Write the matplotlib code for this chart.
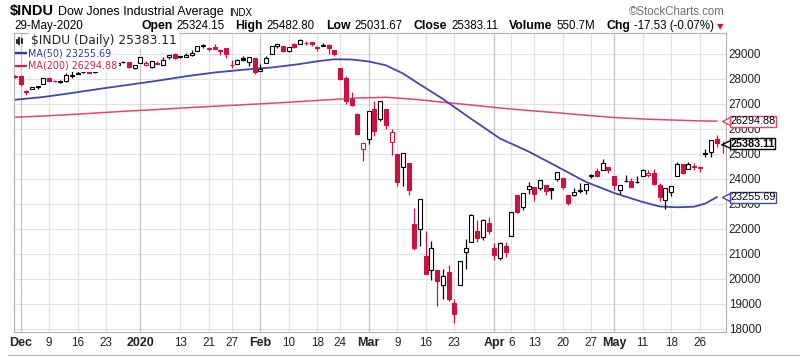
"""Dow Jones Industrial Average, daily candles with 50 and 200 day moving averages"""

import matplotlib.pyplot as plt
from matplotlib.lines import Line2D
from matplotlib.transforms import blended_transform_factory

# trading days Nov 29 2019 .. May 29 2020 (index -1 is Nov 29, 0 is Dec 2)
opens = [28117, 28109, 27463, 27588, 27706, 27786, 28017, 27911, 27870, 27918, 28110,
         28191, 28260, 28294, 28250, 28431, 28491, 28572, 28539, 28676, 28654, 28416,
         28638, 28553, 28466, 28639, 28557, 28852, 29000, 28845, 28867, 28939, 29119,
         29313, 29225, 29263, 29120, 29232, 28542, 28595, 28820, 28641, 28813,
         28319, 28624, 28964, 29291, 29286, 29094, 29366, 29368, 29424, 29441, 29280,
         29296, 29331, 29145, 28402, 28031, 27177, 26593, 25200,
         25591, 26762, 26383, 26793, 25458, 24992, 24453, 24604, 22185, 21974, 20917,
         20330, 20346, 19722, 20253, 19029, 19722, 21051, 21468, 21898, 21678, 22208,
         21228, 20819, 21285, 21693, 23327, 22873, 23582, 23657, 23635, 23742, 23623,
         24000, 24006, 23357, 23322, 23511, 23523, 24106, 24313, 24334, 24462,
         24119, 23548, 23889, 23883, 23855, 24093, 24153, 24225, 23740, 23153, 23457,
         24081, 24573, 24392, 24483, 24440, 24996, 25045, 25580, 25324]
highs = [28150, 28110, 27530, 27677, 27706, 28036, 28039, 27942, 27925, 28224, 28290,
         28337, 28375, 28330, 28377, 28583, 28582, 28576, 28621, 28702, 28654, 28548,
         28873, 28717, 28708, 28686, 28866, 28958, 29009, 28909, 29033, 29128, 29298,
         29374, 29258, 29373, 29183, 29236, 28724, 28770, 28892, 28860, 28813,
         28593, 28888, 29291, 29380, 29286, 29277, 29416, 29568, 29505, 29442, 29315,
         29406, 29369, 29145, 28402, 28084, 27453, 26611, 25409,
         26707, 27084, 27102, 26793, 25995, 24992, 25020, 24604, 22838, 23185, 21897,
         21492, 20346, 20380, 20531, 19178, 20704, 21565, 22595, 22327, 22378, 22442,
         21412, 21477, 21447, 22680, 23329, 23434, 23848, 23659, 23955, 23742, 23624,
         24265, 24006, 23358, 23625, 23806, 23775, 24187, 24430, 24765, 24469,
         24119, 23751, 24128, 24002, 24081, 24363, 24348, 24388, 23812, 23633, 23689,
         24658, 24589, 24643, 24640, 24466, 25194, 25550, 25758, 25483]
lows = [28028, 27705, 27325, 27580, 27564, 27786, 27909, 27848, 27839, 27857, 28023,
        28191, 28240, 28225, 28223, 28394, 28491, 28503, 28536, 28608, 28420, 28376,
        28627, 28500, 28420, 28565, 28541, 28783, 28789, 28802, 28865, 28908, 29083,
        29230, 29111, 29172, 28945, 28828, 28440, 28565, 28719, 28513, 28170,
        28319, 28624, 28964, 29240, 29054, 29063, 29237, 29368, 29349, 29311, 29117,
        29296, 28992, 28885, 27921, 26982, 26914, 25766, 24681,
        25391, 25706, 26287, 25999, 24924, 23707, 23690, 23328, 21154, 21286, 20188,
        19958, 18917, 19177, 19094, 18214, 19722, 20377, 21469, 21469, 21523, 21790,
        20735, 20736, 20863, 21693, 22619, 22740, 23367, 23094, 23556, 23360, 23174,
        23890, 23571, 22945, 23288, 23409, 23370, 24007, 24050, 24334, 24222,
        23560, 23362, 23866, 23647, 23811, 24093, 24075, 23760, 23090, 22790, 23317,
        24081, 24189, 24392, 24360, 24248, 24874, 24876, 25262, 25032]
closes = [28051, 27783, 27503, 27650, 27678, 28015, 27910, 27882, 27911, 28132, 28135,
          28236, 28267, 28239, 28377, 28455, 28552, 28515, 28621, 28645, 28462, 28538,
          28869, 28635, 28703, 28584, 28745, 28957, 28824, 28907, 28940, 29030, 29298,
          29348, 29196, 29186, 29160, 28990, 28536, 28723, 28734, 28859, 28256,
          28400, 28808, 29291, 29380, 29103, 29277, 29276, 29551, 29423, 29398, 29232,
          29348, 29220, 28992, 27961, 27081, 26958, 25767, 25409,
          26703, 25917, 27091, 26121, 25865, 23851, 25018, 23553, 21201, 23186, 20189,
          21237, 19899, 20087, 19174, 18592, 20705, 21201, 22552, 21637, 22327, 21917,
          20944, 21413, 21053, 22680, 22654, 23434, 23719, 23391, 23950, 23504, 23538,
          24242, 23650, 23019, 23476, 23515, 23775, 24134, 24102, 24634, 24346,
          23724, 23750, 23883, 23665, 23876, 24331, 24222, 23765, 23248, 23625, 23685,
          24597, 24207, 24576, 24474, 24465, 24995, 25548, 25401, 25383.11]

# moving averages
ma50_days = [-1, 4, 9, 14, 19, 24, 29, 34, 39, 44, 49, 52, 55, 58, 61, 64, 67, 70,
             74, 79, 84, 89, 94, 99, 104, 109, 112, 115, 118, 120, 122]
ma50 = [27150, 27260, 27420, 27590, 27750, 27910, 28090, 28240, 28350, 28440, 28580,
        28690, 28770, 28760, 28680, 28530, 28200, 27760, 27180, 26380, 25600, 25080,
        24480, 23870, 23420, 23060, 22880, 22850, 22870, 23000, 23255.69]
ma200_days = [-1, 4, 9, 14, 19, 24, 29, 34, 39, 44, 49, 54, 59, 64, 69, 74, 79, 84,
              89, 94, 99, 104, 109, 114, 119, 122]
ma200 = [26450, 26500, 26560, 26630, 26700, 26760, 26830, 26890, 26950, 27010, 27080,
         27150, 27220, 27250, 27170, 27050, 26940, 26820, 26720, 26630, 26530, 26440,
         26380, 26340, 26305, 26294.88]

tick_days = [0, 5, 10, 15, 21, 28, 33, 37, 42, 47, 52, 56, 61, 66, 71, 76, 83, 86,
             90, 95, 100, 104, 109, 114, 119]
tick_labels = ['Dec', '9', '16', '23', '2020', '13', '21', '27', 'Feb', '10', '18', '24',
               'Mar', '9', '16', '23', 'Apr', '6', '13', '20', '27', 'May', '11', '18', '26']
month_labels = ['Dec', '2020', 'Feb', 'Mar', 'Apr', 'May']
price_ticks = list(range(18000, 30000, 1000))

quote = [('Open', '25324.15'), ('High', '25482.80'), ('Low', '25031.67'),
         ('Close', '25383.11'), ('Volume', '550.7M'), ('Chg', '-17.53 (-0.07%)')]

RED = '#cc1240'
BLUE = '#4545ad'
PINK = '#e2486b'
SANS = 'Liberation Sans'
W, H = 800, 357


def px(x, y):
    """pixel position (from top left) to figure fraction"""
    return x / W, 1 - y / H


def put(fig, x, y, txt, **kw):
    """place a text and return its right edge in pixels"""
    t = fig.text(*px(x, y), txt, va='center', **kw)
    return t.get_window_extent(fig.canvas.get_renderer()).x1


def fit(fig, x, y, txt, width, size, **kw):
    """place a text on a white patch, scaled so that it spans the given width"""
    t = fig.text(*px(x, y), txt, va='center', fontsize=size, zorder=5,
                 bbox=dict(boxstyle='square,pad=0.15', fc='white', ec='none'), **kw)
    w = t.get_window_extent(fig.canvas.get_renderer()).width
    t.set_fontsize(size * width / w)


def draw_candles(ax) -> None:
    """wicks and bodies, hollow when close > open, red when close < previous close"""
    days = [i - 1 for i in range(len(closes))]
    prev = [opens[0]] + closes[:-1]
    edge, face, bottom, height = [], [], [], []
    for o, c, p in zip(opens, closes, prev):
        color = 'black' if c >= p else RED
        edge.append(color)
        face.append('white' if c > o else color)
        bottom.append(min(o, c))
        height.append(max(abs(c - o), 14))
    ax.vlines(days, lows, highs, colors=edge, linewidth=0.9, zorder=3)
    ax.bar(days, height, bottom=bottom, width=0.7, color=face, edgecolor=edge,
           linewidth=0.8, zorder=4)


def value_tag(ax, value, color, bold=False) -> None:
    """boxed value on the right price axis"""
    trans = blended_transform_factory(ax.transAxes, ax.transData)
    ax.annotate(f'{value:.2f}', xy=(1, value), xycoords=trans, xytext=(3.0, 0),
                textcoords='offset points', va='center', ha='left', fontsize=7.8,
                family=SANS, fontweight='bold' if bold else 'normal',
                color='black', annotation_clip=False, zorder=8,
                bbox=dict(boxstyle='square,pad=0.04', fc='white', ec=color, lw=1.0))
    ax.plot([1.0], [value], marker='<', ms=5.5, mfc='white', mec=color, mew=1.0,
            transform=trans, clip_on=False, zorder=9)


def main() -> None:
    """build the chart"""
    fig = plt.figure(figsize=(8, 3.57), dpi=100)
    left, top = px(14, 33)
    right, bottom = px(726, 332)
    ax = fig.add_axes([left, bottom, right - left, top - bottom])

    ax.set_xlim(-1.14, 123.6)
    ax.set_ylim(17860, 29820)

    # grid
    for v in price_ticks:
        ax.axhline(v, color='#e2e2e2', lw=0.8, zorder=0)
    for d, lab in zip(tick_days, tick_labels):
        ax.axvline(d, color='#c4c4c4' if lab in month_labels else '#e2e2e2',
                   lw=0.9, zorder=0)

    ax.plot(ma200_days, ma200, color=PINK, lw=1.1, zorder=2)
    ax.plot(ma50_days, ma50, color=BLUE, lw=1.3, zorder=2)
    draw_candles(ax)

    ax.yaxis.tick_right()
    ax.set_yticks(price_ticks, [str(v) for v in price_ticks])
    ax.set_xticks(tick_days, tick_labels)
    ax.tick_params(length=0, labelsize=8.4, colors='#222222')
    ax.tick_params(axis='y', pad=2.0)
    ax.tick_params(axis='x', pad=3.5)
    for lab in ax.get_xticklabels() + ax.get_yticklabels():
        lab.set_family(SANS)
        if lab.get_text() in month_labels:
            lab.set_fontweight('bold')
            lab.set_fontsize(9)
    for sp in ax.spines.values():
        sp.set_color('#b0b0b0')
        sp.set_linewidth(0.8)

    value_tag(ax, ma200[-1], PINK)
    value_tag(ax, closes[-1], 'black', bold=True)
    value_tag(ax, ma50[-1], BLUE)

    # header, first line
    x = put(fig, 10, 11.5, '$INDU', fontsize=10.5, fontweight='bold', family=SANS)
    x = put(fig, x + 4, 12, 'Dow Jones Industrial Average', fontsize=9, family=SANS)
    put(fig, x + 5, 12.5, 'INDX', fontsize=7, family=SANS)
    fig.text(*px(725, 12), '\u00a9StockCharts.com', fontsize=8.3, family=SANS,
             color='#707070', va='center', ha='right')

    # header, second line
    put(fig, 14, 26, '29-May-2020', fontsize=8.4, family=SANS)
    x = 141
    for label, val in quote:
        x = put(fig, x, 26, label, fontsize=8.8, fontweight='bold', family=SANS)
        x = put(fig, x + 4, 26, val, fontsize=8.3, family=SANS) + 11
    put(fig, x - 8, 26.5, '\u25bc', fontsize=6, color=RED, family='DejaVu Sans')

    # legend inside the plot
    for i, h in enumerate([3, 6, 4]):
        fig.add_artist(Line2D([px(17 + 2.3 * i, 0)[0]] * 2,
                              [px(0, 41 - h / 2)[1], px(0, 41 + h / 2)[1]],
                              color='black', lw=1.2))
    fit(fig, 31, 40.5, '$INDU (Daily) 25383.11', 146, 8, family='DejaVu Sans',
        color='#222222')
    for y, color, txt, w in [(53, '#3535a8', 'MA(50) 23255.69', 83),
                             (65.5, '#d4204a', 'MA(200) 26294.88', 89)]:
        fig.add_artist(Line2D([px(16, 0)[0], px(27, 0)[0]], [px(0, y)[1]] * 2, color=color, lw=1.6))
        fit(fig, 28.5, y, txt, w, 7.5, family='DejaVu Sans', color=color)

    fig.add_artist(Line2D([px(8, 0)[0], 1], [px(0, 354.5)[1]] * 2, color='#bdbdbd', lw=1))

    fig.savefig('out.png', dpi=100)


if __name__ == '__main__':
    main()
